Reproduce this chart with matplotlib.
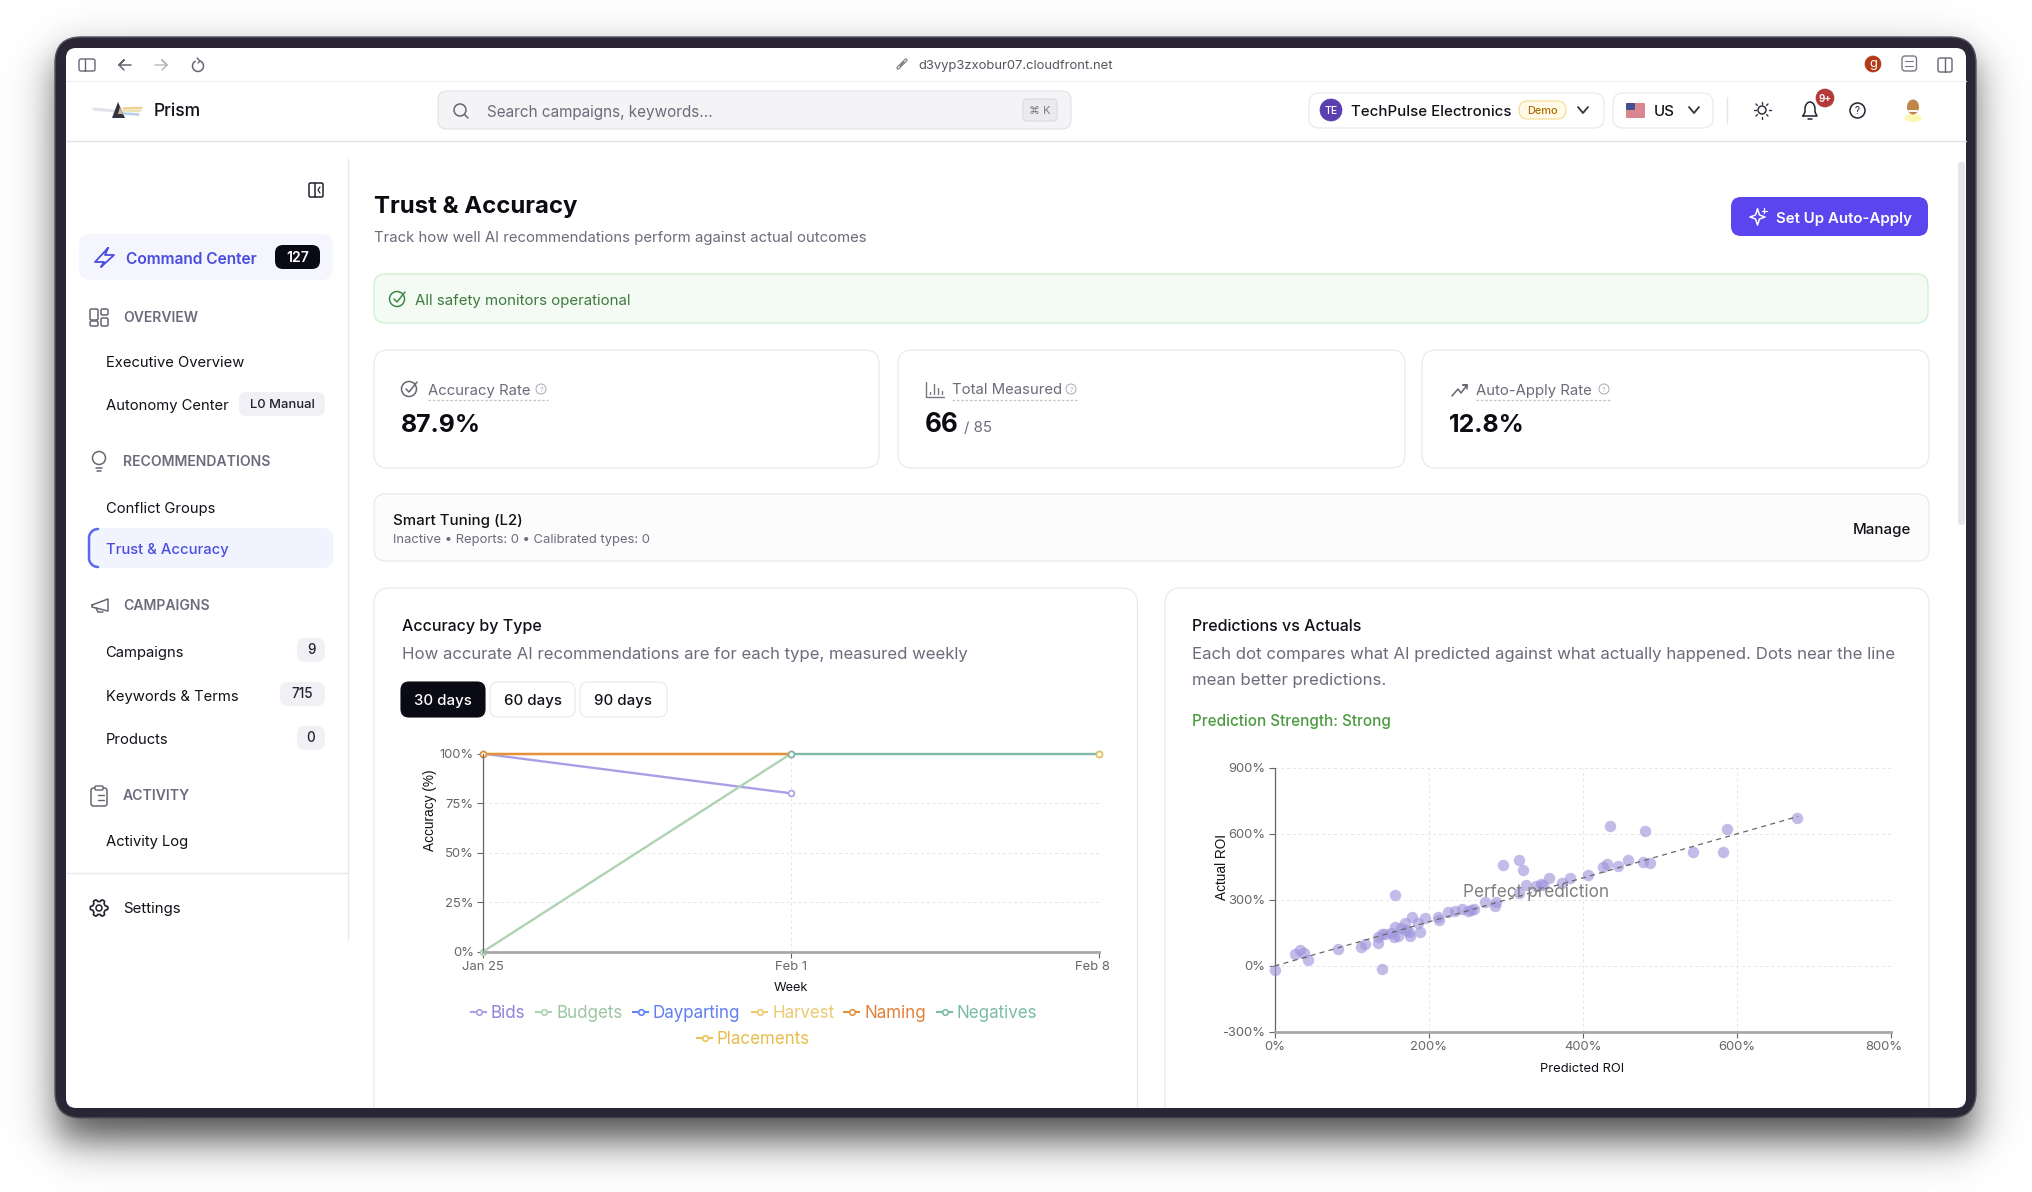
# Trust & Accuracy dashboard screenshot: browser chrome, sidebar, KPI cards,
# a weekly accuracy line chart and a predicted vs actual ROI scatter.
import numpy as np
import matplotlib
matplotlib.use("Agg")
import matplotlib.pyplot as plt
from matplotlib.patches import FancyBboxPatch, Circle, Polygon, Ellipse
from matplotlib.transforms import ScaledTranslation

plt.rcParams["font.family"] = ["Inter", "DejaVu Sans"]

W, H = 2032, 1192

# ----- line chart data -----
weeks = ["Jan 25", "Feb 1", "Feb 8"]
week_pos = [0, 1, 2]
acc_yticks = [0, 25, 50, 75, 100]
acc_names = ["Bids", "Budgets", "Dayparting", "Harvest", "Naming", "Negatives", "Placements"]
bids = [100, 80, np.nan]
budgets = [0, 100, np.nan]
dayparting = [100, np.nan, np.nan]
harvest = [100, 100, np.nan]
naming = [100, 100, np.nan]
negatives = [np.nan, 100, 100]
placements = [np.nan, np.nan, 100]

# ----- scatter data (percent) -----
pred_roi = [0, 26, 33, 38, 43, 83, 112, 118, 135, 135, 139, 140, 143, 155, 157, 157,
            160, 151, 164, 170, 171, 174, 176, 178, 186, 189, 195, 212, 213, 225, 235,
            244, 251, 255, 259, 273, 286, 288, 297, 318, 323, 318, 327, 340, 346, 349,
            357, 373, 384, 407, 427, 432, 436, 446, 459, 478, 481, 488, 544, 583, 587, 679]
actual_roi = [-18, 56, 73, 61, 29, 77, 86, 102, 105, 133, -12, 144, 145, 130, 323, 176,
              136, 148, 174, 197, 162, 155, 135, 224, 197, 155, 217, 223, 208, 244, 250,
              259, 250, 255, 259, 292, 274, 291, 459, 480, 438, 333, 370, 365, 373, 370,
              401, 376, 401, 415, 448, 462, 636, 453, 480, 474, 612, 470, 518, 518, 621, 673]
perfect_line = [0, 680]
roi_xticks = [0, 200, 400, 600, 800]
roi_yticks = [-300, 0, 300, 600, 900]

# ----- page text -----
kpi_labels = ["Accuracy Rate", "Total Measured", "Auto-Apply Rate"]
kpi_values = ["87.9%", "66", "12.8%"]
day_buttons = ["30 days", "60 days", "90 days"]

TXT_GREY = "#6b6b7b"
BORDER = "#e8e8ec"
ACCENT = "#4a4de0"

fig = plt.figure(figsize=(W / 100, H / 100), dpi=100, facecolor="white")
bg = fig.add_axes([0, 0, 1, 1])
bg.axis("off")

# soft drop shadow under the device, a blurred rectangle shifted downwards
xx, yy = np.meshgrid(np.arange(W) + 0.5, np.arange(H) + 0.5)
sig = lambda v: 1 / (1 + np.exp(-v / 12.0))
shadow = 0.7 * (sig(xx - 58) - sig(xx - 1973)) * (sig(yy - 59) - sig(yy - 1140))
rgba = np.zeros((H, W, 4))
rgba[..., 3] = shadow
bg.imshow(rgba, extent=(0, W, H, 0), aspect="auto", zorder=0.5, interpolation="nearest")
bg.set_xlim(0, W)
bg.set_ylim(H, 0)


def box(x0, y0, x1, y1, r, fc="white", ec="none", lw=0.8, alpha=None, z=2):
    p = FancyBboxPatch((x0 + r, y0 + r), x1 - x0 - 2 * r, y1 - y0 - 2 * r,
                       boxstyle=f"round,pad={r},rounding_size={r}", fc=fc, ec=ec,
                       lw=lw, alpha=alpha, zorder=z, mutation_aspect=1)
    bg.add_patch(p)
    return p


def txt(x, y, s, px=15, color="#111118", weight="normal", ha="left", va="center_baseline", **kw):
    return bg.text(x, y, s, fontsize=px * 0.72, color=color, fontweight=weight, ha=ha, va=va,
                   zorder=6, **kw)


def ln(xs, ys, color="#555560", lw=1.1, z=5, **kw):
    bg.plot(xs, ys, color=color, lw=lw, zorder=z, solid_capstyle="round", **kw)


def ring(x, y, r, color="#555560", lw=1.1, fc="none"):
    bg.add_patch(Circle((x, y), r, fc=fc, ec=color, lw=lw, zorder=5))


def chevron(x, y, color="#333340"):
    ln([x - 5, x, x + 5], [y - 3, y + 3, y - 3], color, 1.3)


def check_icon(x, y, color):
    ring(x, y, 7.5, color, 1.1)
    ln([x - 3, x, x + 8], [y, y + 3, y - 7], color, 1.1)


def help_icon(x, y):
    ring(x, y, 5, "#a8a8b4", 0.7)
    txt(x, y, "?", 7, "#a8a8b4", ha="center")


# ----- device frame -----
box(55, 37, 1976, 1118, 26, fc="#2a2636", ec="#55535c", lw=1.0, z=1.5)
screen = box(66, 48, 1966, 1108, 10, fc="white", z=1.8)

# ----- browser title bar -----
ln([66, 1966], [80.5, 80.5], "#f0f0f2", 1.0)
box(79, 59, 95, 71, 2, ec="#666670", lw=1.0, z=5)
ln([85, 85], [59, 71], "#666670", 1.0)
ln([131, 119, 124, 119, 124], [65, 65, 60, 65, 70], "#666670", 1.1)
ln([155, 167, 162, 167, 162], [65, 65, 60, 65, 70], "#bcbcc4", 1.1)
t = np.linspace(-1.1, 4.2, 30)
ln(198 + 5.5 * np.cos(t), 66 + 5.5 * np.sin(t), "#666670", 1.1)
ln([197, 200, 198], [58, 61, 63], "#666670", 1.0)
ln([898, 901], [68, 65], "#777780", 2.4)
ln([902, 906], [64, 60], "#777780", 2.4)
ln([898, 901], [68, 65], "white", 0.8)
ln([902, 906], [64, 60], "white", 0.8)
ln([900, 904], [66, 62], "#777780", 0.9)
txt(918, 64.5, "d3vyp3zxobur07.cloudfront.net", 13, "#55555f")
ring(1873, 64, 8, "#b23a17", 0.5, fc="#b23a17")
txt(1873, 63, "g", 13, "white", ha="center")
box(1902, 56, 1916.5, 71, 3, ec="#777780", lw=1.0, z=5)
ln([1905, 1913], [61, 61], "#777780", 0.8)
ln([1905, 1913], [66, 66], "#777780", 0.8)
box(1938, 58, 1952, 72, 2, ec="#666670", lw=1.0, z=5)
ln([1945, 1945], [58, 72], "#666670", 1.0)

# ----- top nav -----
ln([66, 1966], [141, 141], "#e4e4e8", 1.0)
ln([94, 114], [109, 111], "#e2e2e8", 2.2)
bg.add_patch(Polygon([[118, 102], [112, 118], [125, 118]], fc="#33333f", ec="none", zorder=5))
bg.add_patch(Polygon([[120, 107], [118, 114], [123, 114]], fc="#c9b98e", ec="none", zorder=5.2))
bg.plot([124, 141], [108.5, 108], color="#f1cf8f", lw=1.8, zorder=5)
bg.plot([124, 140], [111, 111], color="#e9e3b8", lw=1.6, zorder=5)
bg.plot([124, 138], [113.5, 114.5], color="#b8cdea", lw=1.8, zorder=5)
txt(154, 110, "Prism", 17.5, "#111118", "medium")
box(438, 91, 1071, 129, 9, fc="#f4f4f6", ec="#e2e2e6", z=3)
ring(460, 110, 6, "#666670", 1.1)
ln([464.5, 468], [114.5, 118], "#666670", 1.1)
txt(487, 110.5, "Search campaigns, keywords...", 15.3, TXT_GREY)
box(1023, 99, 1057, 121, 4, fc="#ebebef", ec="#dcdce0", z=4)
txt(1040, 110, "⌘ K", 11, "#7a7a85", ha="center")
box(1309, 93, 1604, 128, 10, ec=BORDER, z=3)
ring(1331, 110, 11, "#5a3fb0", 0.5, fc="#5a3fb0")
txt(1331, 110.5, "TE", 10.5, "white", "medium", ha="center")
txt(1351, 110.5, "TechPulse Electronics", 15, "#111118", "medium")
box(1519, 101, 1566, 119, 9, fc="#fffbe8", ec="#f4dc8a", z=4)
txt(1542.5, 110.5, "Demo", 11, "#b06a00", "medium", ha="center")
chevron(1583, 110)
box(1613, 93, 1713, 128, 10, ec=BORDER, z=3)
box(1626, 103, 1645, 118, 1, fc="#d9868e", z=4)
box(1626, 103, 1635, 110, 1, fc="#43508f", z=5)
txt(1654, 110.5, "US", 15, "#111118", "medium")
chevron(1694, 110)
ln([1727, 1727], [97, 123], "#e4e4e8", 1.0)
ring(1762, 110, 4, "#333340", 1.1)
for a in np.arange(0, 2 * np.pi, np.pi / 4):
    ln([1762 + 6.5 * np.cos(a), 1762 + 8.5 * np.cos(a)],
       [110 + 6.5 * np.sin(a), 110 + 8.5 * np.sin(a)], "#333340", 1.0)
bell = np.linspace(np.pi, 2 * np.pi, 20)
ln(np.r_[1803, 1805, 1805 + 5 + 5 * np.cos(bell), 1815, 1817, 1803],
   np.r_[116, 112, 110 + 7 * np.sin(bell) - 1, 112, 116, 116], "#222230", 1.1)
ln([1808, 1812], [119, 119], "#222230", 1.1)
ring(1825, 98, 9, "#b23a3a", 0.5, fc="#b23a3a")
txt(1825, 98.5, "9+", 10, "white", "semibold", ha="center")
ring(1857.5, 110.5, 7.5, "#222230", 1.1)
txt(1857.5, 110.5, "?", 10, "#222230", ha="center")
bg.add_patch(Ellipse((1913, 118), 17, 8, fc="#fbf8b4", ec="none", zorder=5))
bg.add_patch(Ellipse((1913, 107), 12, 15, fc="#c08548", ec="none", zorder=5.1))
ln([1909, 1917], [111, 111], "white", 1.4, z=5.2)

# ----- sidebar -----
ln([348, 348], [159, 940], "#e9e9ec", 1.0)
ln([66, 348], [873, 873], "#e9e9ec", 1.0)
box(309, 183, 323, 197, 1.5, ec="#222230", lw=1.1, z=5)
ln([315, 315], [183, 197], "#222230", 1.1)
ln([320, 318, 320], [187, 190, 193], "#222230", 0.9)
box(79, 234, 333, 280, 12, fc="#f4f5fd", z=3)
ln([108, 95, 104, 101, 114, 105, 108], [248, 262, 262, 267, 255, 255, 248], ACCENT, 1.3)
txt(125.5, 258, "Command Center", 15.5, ACCENT, "semibold")
box(275, 245, 320, 269, 8, fc="#0a0a14", z=4)
txt(297.5, 257, "127", 14, "white", "semibold", ha="center")

for lab, ly in [("OVERVIEW", 317), ("RECOMMENDATIONS", 461), ("CAMPAIGNS", 604), ("ACTIVITY", 795)]:
    txt(123, ly, lab, 14, TXT_GREY, "semibold")
for x0, y0, x1, y1 in [(90, 309, 98, 320), (101, 309, 108, 315), (90, 321, 98, 326), (101, 318, 108, 326)]:
    box(x0, y0, x1, y1, 1.5, ec="#666670", lw=1.1, z=5)
ring(99, 458, 6.5, "#666670", 1.1)
ln([96, 102], [468, 468], "#666670", 1.1)
ln([97, 101], [471, 471], "#666670", 1.1)
ln([92, 108, 108, 92, 92], [605, 599, 611, 607, 605], "#666670", 1.1)
ln([96, 98, 103], [608, 612, 612], "#666670", 1.1)
box(91, 788, 107, 806, 2.5, ec="#666670", lw=1.1, z=5)
box(95, 786, 103, 790, 1, fc="white", ec="#666670", lw=1.0, z=5)
ln([98, 104], [795, 795], "#666670", 1.0)
ln([98, 104], [800, 800], "#666670", 1.0)
# gear outline with six teeth
gear_t = np.linspace(0, 2 * np.pi, 73)
gear_r = 7.6 + 1.1 * np.clip(3 * np.cos(6 * gear_t), -1, 1)
ln(99 + gear_r * np.cos(gear_t), 908 + gear_r * np.sin(gear_t), "#222230", 1.2)
ring(99, 908, 3, "#222230", 1.1)

for lab, ly in [("Executive Overview", 361.5), ("Autonomy Center", 404.5), ("Conflict Groups", 507),
                ("Campaigns", 651), ("Keywords & Terms", 695), ("Products", 738.5), ("Activity Log", 840.5)]:
    txt(105.5, ly, lab, 14.8)
box(239, 392, 325, 416, 8, fc="#f0f0f5", z=3)
txt(282, 403.5, "L0 Manual", 13, "#222230", "medium", ha="center")
box(88, 528, 333, 568, 10, fc="#f1f4fe", z=3)
t = np.linspace(np.pi / 2, np.pi, 10)
ln(np.r_[98 + 9 * np.cos(t), 89, 98 + 9 * np.cos(t[::-1])],
   np.r_[538 - 9 * np.sin(t), 548, 558 + 9 * np.sin(t[::-1])], "#5a68ee", 1.8)
txt(105.5, 548.5, "Trust & Accuracy", 14.8, ACCENT, "medium")
for lab, x0, ly in [("9", 297, 650), ("715", 280, 694), ("0", 297, 738)]:
    box(x0, ly - 12, 325, ly + 12, 8, fc="#f0f0f5", z=3)
    txt((x0 + 325) / 2, ly - 1, lab, 13.5, "#222230", "medium", ha="center")
txt(123, 908, "Settings", 15)

# ----- page header -----
txt(374, 204, "Trust & Accuracy", 24, "#0b0b12", "bold")
txt(374, 236.5, "Track how well AI recommendations perform against actual outcomes", 14.9, TXT_GREY)
box(1731, 197, 1928, 236, 10, fc="#5b45ee", z=3)
ln([1757.5, 1759.5, 1765, 1759.5, 1757.5, 1755.5, 1750, 1755.5, 1757.5],
   [209, 215, 217, 219, 225, 219, 217, 215, 209], "white", 1.1)
ln([1764, 1764], [208, 213], "white", 0.9)
ln([1761.5, 1766.5], [210.5, 210.5], "white", 0.9)
txt(1776, 217, "Set Up Auto-Apply", 15.1, "white", "semibold")
box(1958, 162, 1965, 525, 3, fc="#e6e6e8", z=3)

box(374, 274, 1928, 323, 11, fc="#f4fbf4", ec="#c9eec9", z=3)
check_icon(397, 299, "#3f8a48")
txt(415, 299, "All safety monitors operational", 15, "#3d7a3d")

# ----- KPI cards -----
for x0, x1 in [(374, 879), (898, 1405), (1422, 1929)]:
    box(x0, 350, x1, 468, 14, ec=BORDER, z=3)
check_icon(409, 389, "#666670")
ln([926, 926, 944], [382, 397, 397], "#777780", 1.0)
for xb, yb in [(930, 392), (934, 384), (938, 388), (942, 391)]:
    ln([xb, xb], [yb, 394], "#777780", 1.0)
ln([1452, 1458, 1461, 1467, 1463, 1467, 1467], [396, 389, 393, 385, 385, 385, 389], "#666670", 1.1)
for lab, x0, x1, hx, ly in [(kpi_labels[0], 428, 548, 541, 390), (kpi_labels[1], 952, 1078, 1071, 389),
                            (kpi_labels[2], 1476, 1610, 1604, 390)]:
    txt(x0, ly, lab, 14.9, TXT_GREY)
    help_icon(hx, 389)
    ln([x0, x1], [400, 400], "#c4c4cc", 0.9, linestyle=(0, (2, 1.5)))
txt(401, 422.5, kpi_values[0], 24.8, "#0b0b12", "bold")
txt(925, 422.5, kpi_values[1], 26, "#0b0b12", "bold")
txt(964, 427, "/ 85", 15, TXT_GREY)
txt(1449, 422.5, kpi_values[2], 24.8, "#0b0b12", "bold")

# ----- smart tuning strip -----
box(374, 494, 1929, 561, 12, fc="#fcfcfc", ec=BORDER, z=3)
txt(393, 519, "Smart Tuning (L2)", 15, "#111118", "medium")
txt(393, 538.5, "Inactive • Reports: 0 • Calibrated types: 0", 13, TXT_GREY)
txt(1911, 528.5, "Manage", 15, "#111118", "medium", ha="right")

# ----- chart cards (run off the bottom of the screen) -----
for x0, x1 in [(374, 1137.5), (1165, 1929)]:
    c = box(x0, 588, x1, 1160, 16, ec=BORDER, z=3)
    c.set_clip_path(screen)
txt(402, 625, "Accuracy by Type", 16, "#111118", "medium")
txt(402, 653, "How accurate AI recommendations are for each type, measured weekly", 16.7, TXT_GREY)
for lab, x0, x1 in zip(day_buttons, [401, 490, 580], [485, 575, 667]):
    on = lab == day_buttons[0]
    box(x0, 682, x1, 717, 8, fc="#0a0a14" if on else "white", ec="#0a0a14" if on else BORDER, z=4)
    txt((x0 + x1) / 2, 700, lab, 15, "white" if on else "#111118", "medium", ha="center")
txt(1192, 625, "Predictions vs Actuals", 16, "#111118", "medium")
txt(1192, 653, "Each dot compares what AI predicted against what actually happened. Dots near the line", 16.85, TXT_GREY)
txt(1192, 679, "mean better predictions.", 16.85, TXT_GREY)
txt(1192, 720, "Prediction Strength: Strong", 15.2, "#4a9a3f", "medium")


def add_chart(px0, py0, px1, py1):
    ax = fig.add_axes([px0 / W, 1 - py1 / H, (px1 - px0) / W, (py1 - py0) / H])
    ax.patch.set_alpha(0)
    ax.set_zorder(3)
    for s in ["top", "right"]:
        ax.spines[s].set_visible(False)
    ax.spines["left"].set_color("#666666")
    ax.spines["left"].set_linewidth(0.9)
    ax.spines["bottom"].set_color("#a8a8a8")
    ax.spines["bottom"].set_linewidth(2.0)
    ax.grid(True, color="#e6e6e6", lw=0.7, linestyle=(0, (3, 3)))
    ax.set_axisbelow(True)
    ax.tick_params(length=4, width=0.8, color="#666666", labelcolor="#666666", labelsize=9.4, pad=2.5)
    return ax


def nudge_last_xlabel(ax, px):
    # the page shifts the last x label left so it stays inside the svg
    lab = ax.get_xticklabels()[-1]
    lab.set_transform(lab.get_transform() + ScaledTranslation(px / 100, 0, fig.dpi_scale_trans))


# ----- accuracy line chart -----
ax1 = add_chart(483, 753.7, 1099, 951.7)
acc_series = [bids, budgets, dayparting, harvest, naming, negatives, placements]
line_cols = ["#a99fe6", "#aed3b3", "#6383f5", "#efca6c", "#e3913f", "#7fb9aa", "#e8c25a"]
text_cols = ["#8f84db", "#9cc6a0", "#5f7ff2", "#ecca72", "#e0803a", "#7bbba6", "#e8bd4c"]
for vals, col in zip(acc_series, line_cols):
    ax1.plot(week_pos, vals, color=col, lw=1.7, marker="o", ms=4.2, mfc="white", mec=col, mew=1.2, clip_on=False)
ax1.set_xlim(0, 2)
ax1.set_ylim(0, 100)
ax1.set_xticks(week_pos)
ax1.set_xticklabels(weeks)
nudge_last_xlabel(ax1, -7)
ax1.set_yticks(acc_yticks)
ax1.set_yticklabels([f"{v}%" for v in acc_yticks])
txt(791, 986.5, "Week", 12.8, "#111118", ha="center")
txt(430, 810, "Accuracy (%)", 13.6, "#111118", ha="center", va="center", rotation=90, family="Liberation Sans")

# legend, laid out by hand because it wraps the way the page does
leg_x = [471, 536, 633, 752, 844, 937, 697]
leg_y = [1012, 1012, 1012, 1012, 1012, 1012, 1038]
for name, lx, ly, lc, tc in zip(acc_names, leg_x, leg_y, line_cols, text_cols):
    bg.plot([lx, lx + 15], [ly, ly], color=lc, lw=1.5, zorder=5)
    bg.plot([lx + 7.5], [ly], "o", ms=4, mfc="white", mec=lc, mew=1.2, zorder=5.5)
    txt(lx + 20, ly, name, 17, tc)

# ----- ROI scatter -----
ax2 = add_chart(1274.5, 768, 1890.6, 1032)
ax2.scatter(pred_roi, actual_roi, s=68, color="#9d94dc", alpha=0.62, lw=0, clip_on=False, zorder=3)
ax2.plot(perfect_line, perfect_line, color="#666666", lw=0.9, linestyle=(0, (4, 3.5)), zorder=4)
ax2.set_xlim(0, 800)
ax2.set_ylim(-300, 900)
ax2.set_xticks(roi_xticks)
ax2.set_xticklabels([f"{v}%" for v in roi_xticks])
nudge_last_xlabel(ax2, -7)
ax2.set_yticks(roi_yticks)
ax2.set_yticklabels([f"{v}%" for v in roi_yticks])
ax2.text(340, 336, "Perfect prediction", fontsize=12.4, color="#808080", ha="center", va="center", zorder=5)
txt(1582, 1067, "Predicted ROI", 13, "#111118", ha="center")
txt(1222, 867, "Actual ROI", 13.6, "#111118", ha="center", va="center", rotation=90, family="Liberation Sans")

fig.savefig("out.png", dpi=100)
